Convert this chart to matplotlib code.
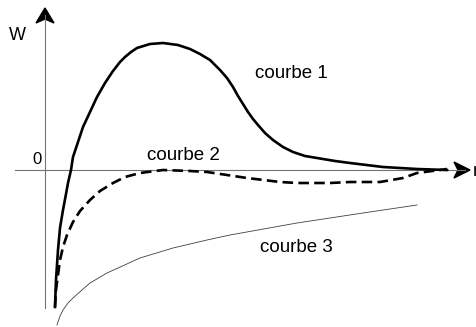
import matplotlib.pyplot as plt
from matplotlib.patches import Polygon

plt.rcParams['font.family'] = ['Liberation Sans', 'DejaVu Sans']

# courbes (r, W), origine au croisement des axes
r1 = [10, 11, 13, 15, 18, 21, 23, 26, 28, 33, 38, 45, 52, 60, 68, 75, 80, 86, 92, 105, 118, 133, 145,
      155, 165, 175, 182, 188, 193, 198, 203, 208, 213, 220, 228, 238, 248, 260, 272, 290, 305,
      338, 372, 402]
w1 = [-137, -110, -80, -58, -40, -24, -13, 0, 13, 28, 43, 58, 73, 87, 99, 108, 113, 118, 122, 126, 127,
      125, 121, 116, 110, 100, 92, 83, 74, 66, 58, 51, 45, 37, 30, 23, 18, 14, 12, 9, 7,
      3, 1, 0]

r2 = [10, 11, 13, 15, 18, 22, 28, 35, 45, 55, 68, 80, 95, 118, 145, 162, 182, 202, 235, 252,
      285, 305, 335, 358, 372, 402]
w2 = [-137, -120, -105, -90, -77, -65, -52, -41, -30, -21, -13, -7, -3, 0, -1, -2, -5, -8, -12, -13,
      -13, -12, -12, -8, -3, 1]

r3 = [12, 15, 18, 23, 28, 37, 45, 62, 95, 128, 162, 185, 252, 285, 318, 372]
w3 = [-155, -146, -140, -133, -128, -120, -113, -103, -88, -78, -70, -65, -53, -48, -43, -35]

fig = plt.figure(figsize=(4.76, 3.27), dpi=100)
ax = fig.add_axes([0, 0, 1, 1])
ax.set_xlim(-45, 431)
ax.set_ylim(-157, 170)
ax.axis('off')

# axes avec flèches
ax.plot([-30, 420], [0, 0], color='0.45', lw=0.8)
ax.plot([0, 0], [-138, 155], color='0.45', lw=0.8)
ax.add_patch(Polygon([(425, 0), (409, 8), (413, 0), (409, -8)], closed=True, color='black'))
ax.add_patch(Polygon([(0, 162), (-9, 147), (0, 151), (9, 147)], closed=True, color='black'))

ax.plot(r1, w1, color='black', lw=1.9, solid_joinstyle='round')
ax.plot(r2, w2, color='black', lw=1.9, linestyle=(0, (4, 2)))
ax.plot(r3, w3, color='0.25', lw=0.6)

ax.text(-28, 135, 'W', fontsize=13, ha='center', va='center')
ax.text(-8, 11, '0', fontsize=12, ha='center', va='center')
ax.text(428, -2, 'r', fontsize=13, ha='left', va='center')
ax.text(210, 97, 'courbe 1', fontsize=13.5, ha='left', va='center')
ax.text(102, 15, 'courbe 2', fontsize=13.5, ha='left', va='center')
ax.text(215, -77, 'courbe 3', fontsize=13.5, ha='left', va='center')

fig.savefig('out.png', dpi=100)
